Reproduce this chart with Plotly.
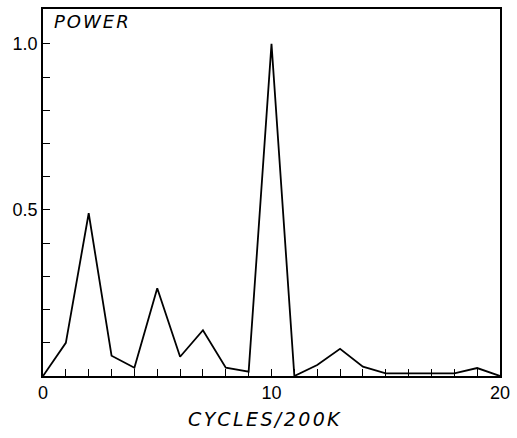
import plotly.graph_objects as go

# Power spectrum, harmonics 0..20 per 200K cycles
cycles = list(range(21))
power = [0.0, 0.10, 0.49, 0.061, 0.025, 0.264, 0.058, 0.138, 0.025, 0.013,
         1.0, 0.0, 0.033, 0.082, 0.028, 0.008, 0.008, 0.008, 0.008, 0.024, 0.0]

x_tickvals = list(range(21))
x_ticktext = ["0" if v == 0 else "10" if v == 10 else "20" if v == 20 else "" for v in x_tickvals]
y_tickvals = [round(0.1 * k, 1) for k in range(1, 11)]
y_ticktext = ["0.5" if v == 0.5 else "1.0" if v == 1.0 else "" for v in y_tickvals]

title_font = "DejaVu Sans"
tick_font = "Liberation Sans"

fig = go.Figure()
fig.add_trace(go.Scatter(
    x=cycles, y=power, mode="lines",
    line=dict(color="black", width=1.8),
    hoverinfo="skip", showlegend=False,
))

axis_common = dict(
    showgrid=False, zeroline=False,
    showline=True, linecolor="black", linewidth=1.5, mirror=True,
    ticks="inside", ticklen=7, tickwidth=1.2, tickcolor="black",
    tickfont=dict(family=tick_font, size=18),
)

fig.update_layout(
    width=517, height=438,
    margin=dict(l=43, r=17, t=7, b=62),
    paper_bgcolor="white", plot_bgcolor="white",
    font=dict(family=tick_font, color="black", size=18),
    xaxis=dict(range=[0, 20], tickvals=x_tickvals, ticktext=x_ticktext, **axis_common),
    yaxis=dict(range=[0, 1.105], tickvals=y_tickvals, ticktext=y_ticktext, **axis_common),
    annotations=[
        dict(text='<span style="letter-spacing:2px">POWER</span>',
             xref="paper", yref="paper", x=0.02, y=1.0,
             xanchor="left", yanchor="top", showarrow=False,
             font=dict(family=title_font, size=18, style="italic")),
        dict(text='<span style="letter-spacing:2.4px">CYCLES/200K</span>',
             xref="paper", yref="paper", x=0.485, y=-0.082,
             xanchor="center", yanchor="top", showarrow=False,
             font=dict(family=title_font, size=19, style="italic")),
    ],
)

fig.write_html("out.html")
